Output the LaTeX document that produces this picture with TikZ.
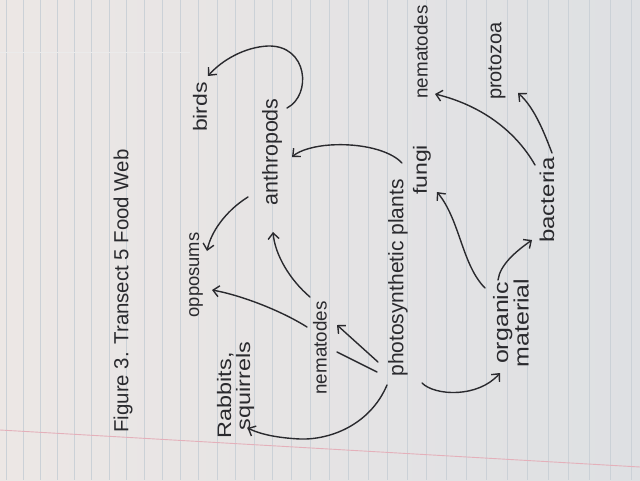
\documentclass[tikz,border=0pt]{standalone}
\usepackage{fontspec}
\setmainfont{Liberation Sans}
\newfontfamily\hwwide[FakeStretch=1.2]{Liberation Sans}
\usetikzlibrary{arrows.meta}
\definecolor{ink}{RGB}{42,42,46}
\definecolor{paperL}{RGB}{236,231,229}
\definecolor{paperR}{RGB}{222,224,227}
\definecolor{rulecol}{RGB}{203,209,215}
\definecolor{margincol}{RGB}{228,176,186}
\begin{document}
\begin{tikzpicture}[x=1pt,y=-1pt,
  lbl/.style={rotate=90, inner sep=0pt, text=ink},
  wire/.style={draw=ink, line width=1.4pt, line cap=round},
  arr/.style={wire, -{Straight Barb[length=6pt,width=11pt,line width=1.4pt]}}]
\useasboundingbox (0,0) rectangle (640,480);
\shade[left color=paperL, right color=paperR] (0,0) rectangle (640,480);
\foreach \k in {0,...,33} {
  \pgfmathsetmacro\xx{6+16.8*\k+0.065*\k*\k}
  \draw[rulecol, line width=0.7pt] (\xx,0) -- (\xx,480);
}
\draw[margincol, line width=0.9pt] (0,430) -- (640,467);
\draw[black!8, line width=0.6pt] (0,52) -- (190,52);

\node[lbl, font=\fontsize{20.4}{24}\selectfont] (title) at (123,291) {Figure 3. Transect 5 Food Web};
\node[lbl, font=\hwwide\fontsize{19.5}{19}\selectfont, align=left] (rabbits) at (235.5,390) {Rabbits,\\\hspace*{8pt}squirrels};
\node[lbl, font=\fontsize{18.4}{20}\selectfont] (opp) at (196,275) {opposums};
\node[lbl, font=\hwwide\fontsize{19.2}{24}\selectfont] (birds) at (200,107) {birds};
\node[lbl, font=\fontsize{21.4}{24}\selectfont] (anth) at (272,152) {anthropods};
\node[lbl, font=\fontsize{18.8}{20}\selectfont] (nemL) at (320,348) {nematodes};
\node[lbl, font=\fontsize{21}{24}\selectfont] (plants) at (398,278) {photosynthetic plants};
\node[lbl, font=\hwwide\fontsize{19.2}{24}\selectfont] (fungi) at (422,170) {fungi};
\node[lbl, font=\fontsize{18.8}{20}\selectfont] (nemR) at (421,52) {nematodes};
\node[lbl, font=\fontsize{20}{22}\selectfont] (proto) at (497,61) {protozoa};
\node[lbl, font=\hwwide\fontsize{20}{24}\selectfont] (bact) at (547,200) {bacteria};
\node[lbl, font=\hwwide\fontsize{20.8}{17}\selectfont, align=center] (org) at (511,323) {organic\\material};

\draw[arr] ([shift={(15,-44)}]anth.center) .. controls (312,95) and (308,45) .. (268,46) .. controls (245,47) and (222,60) .. ([shift={(8,-31)}]birds.center);
\draw[arr] ([shift={(-24,45)}]anth.center) .. controls (230,208) and (212,228) .. ([shift={(11,-24)}]opp.center);
\draw[arr] ([shift={(-13,-21)}]nemL.center) .. controls (280,310) and (240,295) .. ([shift={(16,15)}]opp.center);
\draw[arr] ([shift={(-10,-51)}]nemL.center) .. controls (290,280) and (275,255) .. ([shift={(1,80)}]anth.center);
\draw[arr] ([shift={(-20,84)}]plants.center) -- ([shift={(17,-23)}]nemL.center);
\draw[wire] ([shift={(17,4)}]nemL.center) -- ([shift={(-21,94)}]plants.center);
\draw[arr] ([shift={(-11,107)}]plants.center) .. controls (370,425) and (330,440) .. (300,439) .. controls (280,438) and (262,435) .. ([shift={(12,38)}]rabbits.center);
\draw[arr] ([shift={(24,105)}]plants.center) .. controls (435,396) and (478,398) .. ([shift={(-11,50)}]org.center);
\draw[arr] ([shift={(-20,-7)}]fungi.center) .. controls (390,150) and (360,143) .. (330,145) .. controls (315,146) and (300,150) .. ([shift={(20,5)}]anth.center);
\draw[arr] ([shift={(-26,-35)}]org.center) .. controls (462,265) and (460,220) .. ([shift={(15,22)}]fungi.center);
\draw[arr] ([shift={(-13,-43)}]org.center) .. controls (500,265) and (515,252) .. ([shift={(-15,40)}]bact.center);
\draw[arr] ([shift={(-12,-35)}]bact.center) .. controls (515,130) and (480,105) .. ([shift={(14,42)}]nemR.center);
\draw[arr] ([shift={(5,-47)}]bact.center) .. controls (545,135) and (535,108) .. ([shift={(21,32)}]proto.center);
\end{tikzpicture}
\end{document}
